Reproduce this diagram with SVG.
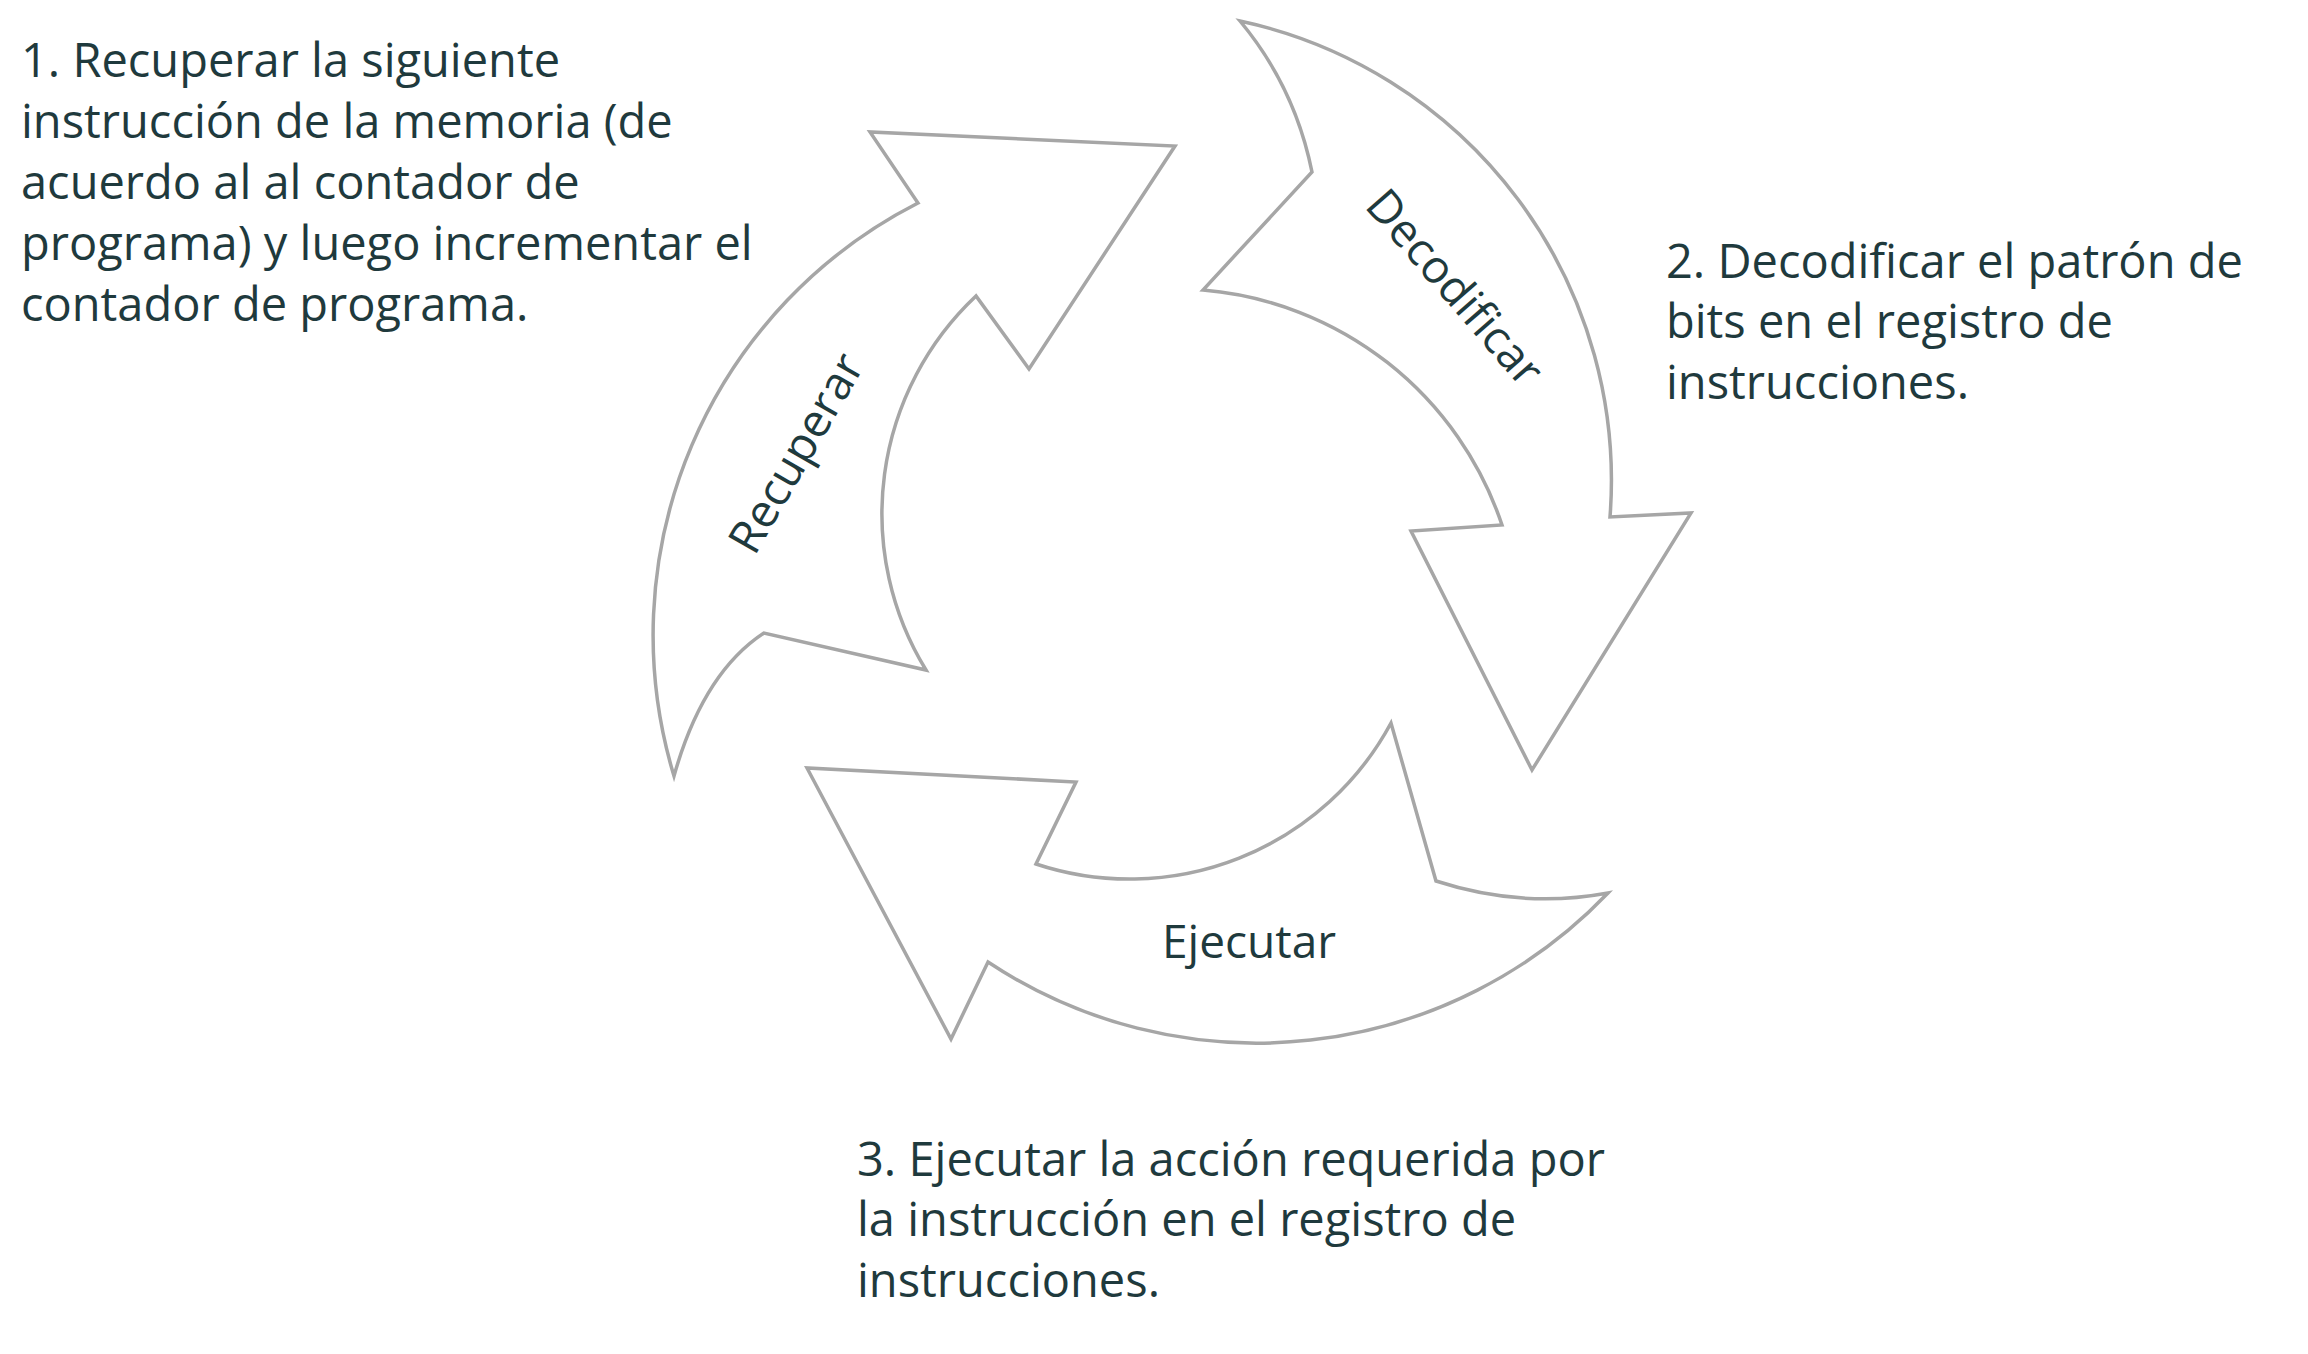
<svg xmlns="http://www.w3.org/2000/svg" width="2308" height="1354" viewBox="0 0 2308 1354">
<style>
.arrow{fill:#FFFFFF;stroke:#A6A6A6;stroke-width:3.5;stroke-linejoin:miter}
.lbl{font-family:"Open Sans","Noto Sans","Liberation Sans",sans-serif;font-size:46px;font-weight:500;fill:#1F3A3D}
.desc{font-family:"Open Sans","Noto Sans","Liberation Sans",sans-serif;font-size:47px;font-weight:500;fill:#1F3A3D}
</style>
<rect width="2308" height="1354" fill="#FFFFFF"/>
<g id="connectors"></g>
<g id="node-recuperar">
<path class="arrow" d="M 674 776 A 485 485 0 0 1 918 203 L 870 132 L 1175 146 L 1029 369 L 976 296 A 299 299 0 0 0 926 670 L 764 633 Q 703 673 674 776 Z"/>
<text class="lbl" text-anchor="middle" transform="translate(810 461) rotate(-60)">Recuperar</text>
</g>
<g id="node-decodificar">
<path class="arrow" d="M 1240 21 Q 1295 87 1312 172 L 1203 290 A 346 346 0 0 1 1502 525 L 1411 531 L 1532 770 L 1691 513 L 1610 517 A 470 470 0 0 0 1240 21 Z"/>
<text class="lbl" text-anchor="middle" transform="translate(1443 298) rotate(49)">Decodificar</text>
</g>
<g id="node-ejecutar">
<path class="arrow" d="M 1608 893 Q 1522 909 1436 881 L 1391 723 A 297 297 0 0 1 1036 864 L 1076 782 L 807 768 L 951 1039 L 988 962 A 486 486 0 0 0 1608 893 Z"/>
<text class="lbl" text-anchor="middle" x="1249" y="958">Ejecutar</text>
</g>
<g id="node-desc1">
<text class="desc" x="21" y="77">1. Recuperar la siguiente</text>
<text class="desc" x="21" y="138">instrucción de la memoria (de</text>
<text class="desc" x="21" y="199">acuerdo al al contador de</text>
<text class="desc" x="21" y="260">programa) y luego incrementar el</text>
<text class="desc" x="21" y="321">contador de programa.</text>
</g>
<g id="node-desc2">
<text class="desc" x="1666" y="278">2. Decodificar el patrón de</text>
<text class="desc" x="1666" y="338">bits en el registro de</text>
<text class="desc" x="1666" y="399">instrucciones.</text>
</g>
<g id="node-desc3">
<text class="desc" x="857" y="1176">3. Ejecutar la acción requerida por</text>
<text class="desc" x="857" y="1236">la instrucción en el registro de</text>
<text class="desc" x="857" y="1297">instrucciones.</text>
</g>
</svg>
